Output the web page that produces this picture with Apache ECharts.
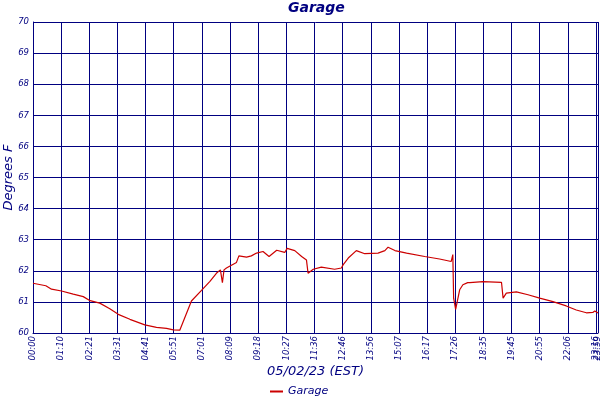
<!DOCTYPE html>
<html>
<head>
<meta charset="utf-8">
<script src="https://cdn.jsdelivr.net/npm/echarts@6/dist/echarts.min.js"></script>
<style>html,body{margin:0;padding:0;background:#fff}#c{width:600px;height:400px}</style>
</head>
<body>
<div id="c"></div>
<script>
// Tick labels (time of day) and their positions along the sample axis
var tickLabels = ["00:00","01:10","02:21","03:31","04:41","05:51","07:01","08:09","09:18","10:27","11:36","12:46","13:56","15:07","16:17","17:26","18:35","19:45","20:55","22:06","23:16","23:59"];
var tickPos = [0,70,140,210,280,350,420,490,560,630,700,770,840,910,980,1050,1120,1190,1260,1330,1400,1405];

// Series: sample position along axis and temperature (deg F)
var samplePos = [0,32,46,71,100,125,142,166,191,212,241,278,307,332,349,365,394,419,440,456,466,471,475,481,506,512,531,543,556,572,587,606,626,632,651,668,680,684,697,717,750,767,771,784,804,825,858,875,883,900,929,974,1011,1040,1044,1046,1049,1051,1055,1061,1069,1081,1086,1119,1165,1167,1169,1177,1202,1231,1260,1293,1326,1351,1376,1392,1397,1405];
var garageTemp = [61.60,61.52,61.41,61.35,61.25,61.17,61.04,60.96,60.78,60.60,60.44,60.26,60.18,60.15,60.10,60.09,61.03,61.37,61.66,61.92,62.03,61.62,62.03,62.09,62.27,62.48,62.44,62.48,62.57,62.62,62.46,62.66,62.59,62.72,62.65,62.46,62.35,61.92,62.05,62.12,62.05,62.09,62.19,62.41,62.65,62.55,62.57,62.65,62.76,62.65,62.57,62.46,62.38,62.30,62.52,61.12,61.10,60.76,61.01,61.39,61.55,61.62,61.62,61.65,61.63,61.69,61.12,61.28,61.32,61.23,61.12,61.01,60.87,60.74,60.65,60.66,60.71,60.64];

var navy = '#000080';
var font = '"DejaVu Sans", Verdana, sans-serif';
var lastIdx = tickPos.length - 1;
var mainTicks = tickPos.slice(0, lastIdx);
var endTick = tickPos.slice(lastIdx);
function fmt(v) { var i = tickPos.indexOf(v); return i >= 0 ? tickLabels[i] : ''; }
var labelStyle = {rotate: 90, margin: 3, hideOverlap: false, showMinLabel: true, showMaxLabel: true, color: navy, fontFamily: font, fontStyle: 'italic', fontSize: 8.5, formatter: fmt};

var chart = echarts.init(document.getElementById('c'), null, {renderer: 'canvas'});
chart.setOption({
  animation: false,
  title: {
    text: 'Garage', left: 288, top: 1, padding: 0,
    textStyle: {color: navy, fontFamily: font, fontStyle: 'italic', fontWeight: 'bold', fontSize: 14}
  },
  legend: {
    data: ['Garage'], left: 270, top: 386, itemWidth: 13, itemHeight: 2, icon: 'rect',
    padding: 0,
    textStyle: {color: navy, fontFamily: font, fontStyle: 'italic', fontSize: 11}
  },
  grid: {left: 33, right: 2, top: 22, bottom: 67, containLabel: false, outerBoundsMode: 'none'},
  xAxis: [{
    type: 'value', min: 0, max: tickPos[lastIdx],
    name: '05/02/23 (EST)', nameLocation: 'middle', nameGap: 32, nameMoveOverlap: false,
    nameTextStyle: {color: navy, fontFamily: font, fontStyle: 'italic', fontSize: 13},
    axisLine: {show: true, lineStyle: {color: navy, width: 1}},
    axisTick: {show: false, customValues: tickPos},
    axisLabel: Object.assign({customValues: mainTicks}, labelStyle),
    splitLine: {show: true, lineStyle: {color: navy, width: 1}}
  }, {
    type: 'value', min: 0, max: tickPos[lastIdx], position: 'bottom',
    axisLine: {show: false}, axisTick: {show: false, customValues: endTick},
    axisLabel: Object.assign({customValues: endTick}, labelStyle),
    splitLine: {show: false}
  }],
  yAxis: {
    type: 'value', min: 60, max: 70, interval: 1,
    name: 'Degrees F', nameLocation: 'middle', nameGap: 18, nameMoveOverlap: false,
    nameTextStyle: {color: navy, fontFamily: font, fontStyle: 'italic', fontSize: 13},
    axisLine: {show: true, lineStyle: {color: navy, width: 1}},
    axisTick: {show: false},
    axisLabel: {margin: 4, color: navy, fontFamily: font, fontStyle: 'italic', fontSize: 8.5},
    splitLine: {show: true, lineStyle: {color: navy, width: 1}}
  },
  series: [{
    name: 'Garage', type: 'line', xAxisIndex: 0, showSymbol: false, symbol: 'none',
    color: '#cc0000', lineStyle: {color: '#cc0000', width: 1.2},
    data: samplePos.map(function (x, i) { return [x, garageTemp[i]]; })
  }]
});
</script>
</body>
</html>
